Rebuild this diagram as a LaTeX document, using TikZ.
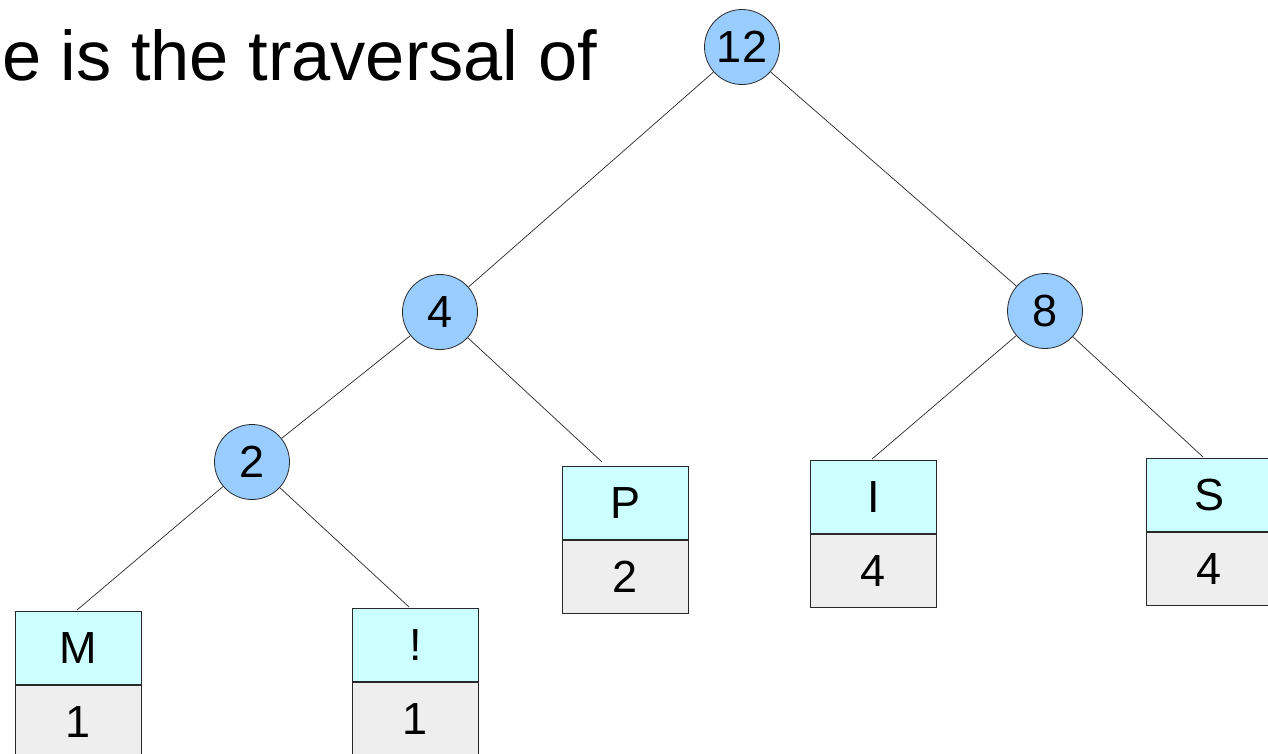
\documentclass[tikz,border=0pt]{standalone}
\usepackage{fontspec}
\setmainfont{Liberation Sans}
\definecolor{nodeblue}{RGB}{153,204,255}
\definecolor{symcyan}{RGB}{204,255,255}
\definecolor{cntgray}{RGB}{238,238,238}
\definecolor{edgegray}{RGB}{40,40,40}
\begin{document}
\begin{tikzpicture}[x=1pt,y=-1pt,
  inner/.style={circle,draw=edgegray,fill=nodeblue,line width=0.8pt,
    minimum size=75pt,inner sep=0pt,font=\fontsize{45}{45}\selectfont},
  cell/.style={rectangle,draw=edgegray,line width=0.8pt,minimum width=126pt,
    minimum height=73pt,inner sep=0pt,font=\fontsize{45}{45}\selectfont},
  sym/.style={cell,fill=symcyan,anchor=north west},
  cnt/.style={cell,fill=cntgray,anchor=north},
  edge/.style={draw=edgegray,line width=0.7pt}]
\useasboundingbox (0,0) rectangle (1268,753);
\clip (0,0) rectangle (1268,753);

% heading
\node[anchor=base east,inner sep=0pt,font=\fontsize{70.4}{70.4}\selectfont]
  (title) at (597,80) {e is the traversal of};

% leaf records: symbol on top, count below
\node[sym] (sM) at (15,611) {M};
\node[cnt] (cM) at (sM.south) {1};
\node[sym] (sX) at (352,608) {!};
\node[cnt] (cX) at (sX.south) {1};
\node[sym] (sP) at (562,466) {P};
\node[cnt] (cP) at (sP.south) {2};
\node[sym] (sI) at (810,460) {I};
\node[cnt] (cI) at (sI.south) {4};
\node[sym] (sS) at (1146,458) {S};
\node[cnt] (cS) at (sS.south) {4};

% where the branches reach the leaves
\coordinate (tM) at (77,610);
\coordinate (tX) at (409,607);
\coordinate (tP) at (602,462);
\coordinate (tI) at (872,459);
\coordinate (tS) at (1203,457);

% internal nodes
\node[inner] (n12) at (742,47) {12};
\node[inner] (n4) at (440,312) {4};
\node[inner] (n8) at (1045,311) {8};
\node[inner] (n2) at (252,462) {2};

% branches
\draw[edge] (n12) -- (n4);
\draw[edge] (n12) -- (n8);
\draw[edge] (n4) -- (n2);
\draw[edge] (n4) -- (tP);
\draw[edge] (n8) -- (tI);
\draw[edge] (n8) -- (tS);
\draw[edge] (n2) -- (tM);
\draw[edge] (n2) -- (tX);
\end{tikzpicture}
\end{document}
